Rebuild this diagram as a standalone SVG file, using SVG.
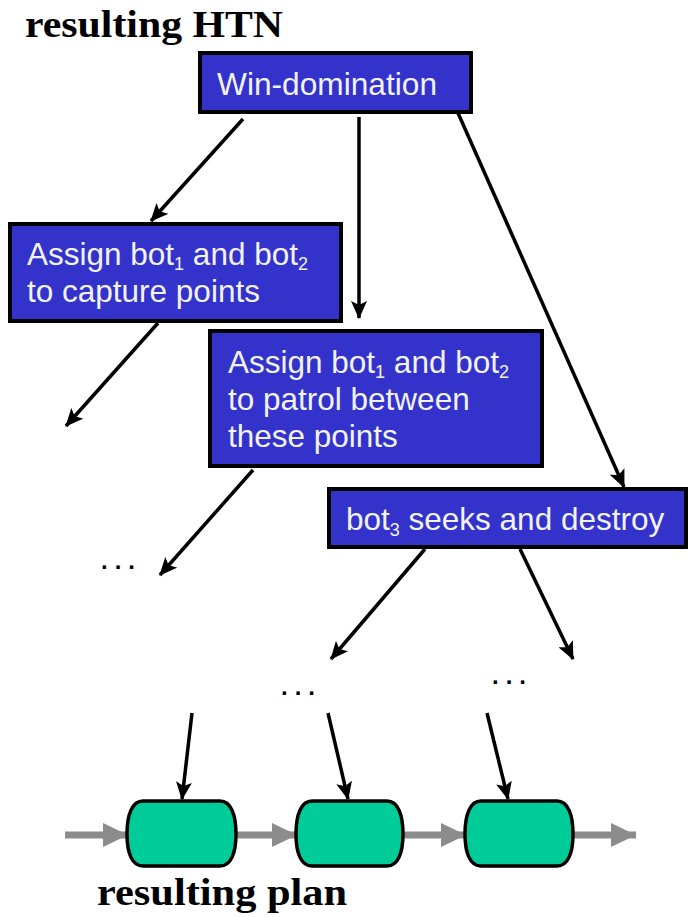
<svg xmlns="http://www.w3.org/2000/svg" width="690" height="917" viewBox="0 0 690 917">
  <style>
    .title { font-family: "Liberation Serif", "Times New Roman", serif; font-weight: bold; font-size: 37px; fill: #000; }
    .task rect { fill: #3333cc; stroke: #000; stroke-width: 4; }
    .task text { font-family: "Liberation Sans", Arial, sans-serif; font-size: 31.5px; fill: #f2f2f2; }
    .sub { font-size: 18px; }
    .edge { stroke: #000; stroke-width: 3.5; fill: none; marker-end: url(#head); }
    .flow { stroke: #8c8c8c; stroke-width: 7; fill: none; marker-end: url(#grayhead); }
    .step path { fill: #00cc99; stroke: #000; stroke-width: 3.5; }
    .dots { font-family: "Liberation Sans", Arial, sans-serif; font-weight: bold; font-size: 24px; fill: #000; letter-spacing: 7px; }
  </style>
  <defs>
    <marker id="head" markerUnits="userSpaceOnUse" markerWidth="20" markerHeight="16" refX="17" refY="8" orient="auto">
      <path d="M0,0 L18,8 L0,16 L4,8 Z" fill="#000"/>
    </marker>
    <marker id="grayhead" markerUnits="userSpaceOnUse" markerWidth="26" markerHeight="26" refX="25" refY="13" orient="auto">
      <path d="M0,1 L25,13 L0,25 Z" fill="#8c8c8c"/>
    </marker>
  </defs>

  <rect width="690" height="917" fill="#fff"/>

  <text class="title" x="25" y="37" textLength="258" lengthAdjust="spacingAndGlyphs">resulting HTN</text>

  <!-- HTN edges and plan links -->
  <g id="connectors">
    <line class="edge" x1="243" y1="119" x2="151" y2="221"/>
    <line class="edge" x1="359" y1="117" x2="359" y2="318"/>
    <line class="edge" x1="458" y1="113" x2="624" y2="487"/>
    <line class="edge" x1="158" y1="323" x2="66" y2="426"/>
    <line class="edge" x1="253" y1="470" x2="160" y2="575"/>
    <line class="edge" x1="425" y1="549" x2="331" y2="659"/>
    <line class="edge" x1="520" y1="549" x2="573" y2="659"/>
    <line class="edge" x1="192" y1="713" x2="182" y2="799"/>
    <line class="edge" x1="328" y1="713" x2="348" y2="799"/>
    <line class="edge" x1="487" y1="713" x2="508" y2="799"/>
    <line class="flow" x1="65" y1="835" x2="128" y2="835"/>
    <line class="flow" x1="236" y1="835" x2="297" y2="835"/>
    <line class="flow" x1="403" y1="835" x2="466" y2="835"/>
    <line class="flow" x1="573" y1="835" x2="636" y2="835"/>
  </g>

  <g id="win-domination" class="task">
    <rect x="200" y="53" width="271" height="59"/>
    <text x="217" y="95" textLength="220" lengthAdjust="spacingAndGlyphs">Win-domination</text>
  </g>

  <g id="assign-capture" class="task">
    <rect x="10" y="224" width="331" height="97"/>
    <text x="27" y="265">Assign bot<tspan class="sub" dy="5">1</tspan><tspan dy="-5"> and bot</tspan><tspan class="sub" dy="5">2</tspan></text>
    <text x="27" y="302">to capture points</text>
  </g>

  <g id="assign-patrol" class="task">
    <rect x="210" y="331" width="332" height="135"/>
    <text x="228" y="373">Assign bot<tspan class="sub" dy="5">1</tspan><tspan dy="-5"> and bot</tspan><tspan class="sub" dy="5">2</tspan></text>
    <text x="228" y="410">to patrol between</text>
    <text x="228" y="447">these points</text>
  </g>

  <g id="seek-destroy" class="task">
    <rect x="329" y="489" width="357" height="58"/>
    <text x="346" y="530">bot<tspan class="sub" dy="6">3</tspan><tspan dy="-6"> seeks and destroy</tspan></text>
  </g>

  <g id="ellipses">
    <text class="dots" x="101" y="569">...</text>
    <text class="dots" x="281" y="695">...</text>
    <text class="dots" x="492" y="684">...</text>
  </g>

  <g id="step-1" class="step">
    <path d="M143,801 H220 C231,801 236,815 236,834 C236,853 231,866 220,866 H143 C132,866 127,853 127,834 C127,815 132,801 143,801 Z"/>
  </g>
  <g id="step-2" class="step">
    <path d="M312,801 H387 C398,801 403,815 403,834 C403,853 398,866 387,866 H312 C301,866 296,853 296,834 C296,815 301,801 312,801 Z"/>
  </g>
  <g id="step-3" class="step">
    <path d="M481,801 H557 C568,801 573,815 573,834 C573,853 568,866 557,866 H481 C470,866 465,853 465,834 C465,815 470,801 481,801 Z"/>
  </g>

  <text class="title" x="97" y="905" textLength="250" lengthAdjust="spacingAndGlyphs">resulting plan</text>
</svg>
